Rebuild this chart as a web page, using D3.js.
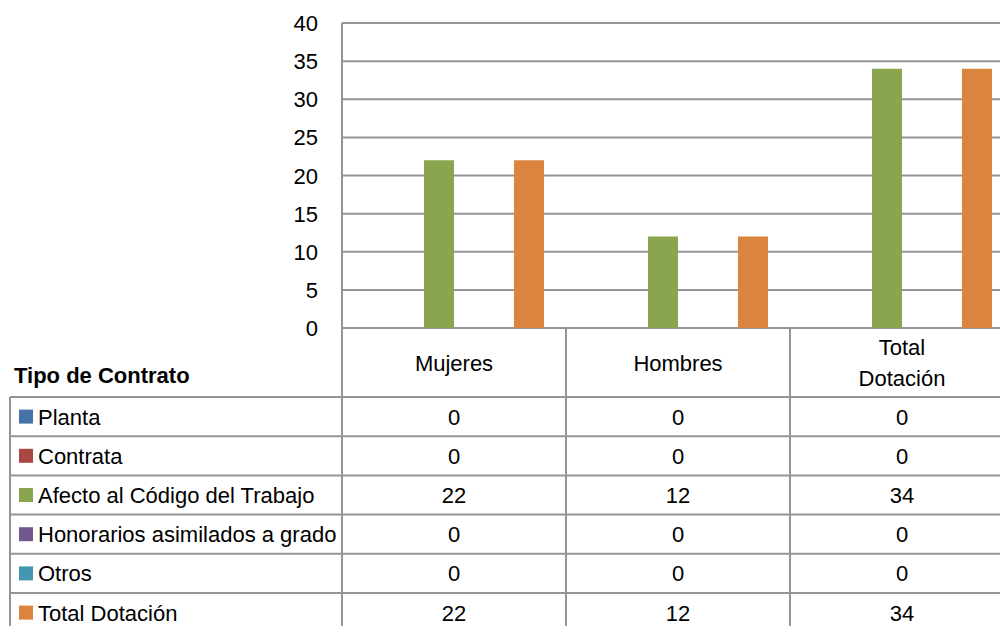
<!DOCTYPE html>
<html><head><meta charset="utf-8">
<script src="https://cdn.jsdelivr.net/npm/d3@7"></script>
<style>body{margin:0;background:#fff}svg{display:block}text{font-family:"Liberation Sans",Arial,sans-serif}</style>
</head><body>
<svg id="c" width="1000" height="626"></svg>
<script>
const categories = ["Mujeres", "Hombres", "Total Dotación"];
const categoryLines = [["Mujeres"], ["Hombres"], ["Total", "Dotación"]];
const seriesNames = ["Planta", "Contrata", "Afecto al Código del Trabajo", "Honorarios asimilados a grado", "Otros", "Total Dotación"];
const seriesColors = ["#4572A7", "#AA4643", "#89A54E", "#71588F", "#4198AF", "#DB843D"];
const planta = [0, 0, 0];
const contrata = [0, 0, 0];
const afecto = [22, 12, 34];
const honorarios = [0, 0, 0];
const otros = [0, 0, 0];
const totalDotacion = [22, 12, 34];
const yTicks = [0, 5, 10, 15, 20, 25, 30, 35, 40];
const tableTitle = "Tipo de Contrato";

const values = [planta, contrata, afecto, honorarios, otros, totalDotacion];

const svg = d3.select("#c");
const L = 342, R = 1014, T = 23, B = 328;
const grid = "#949494";

const x0 = d3.scaleBand().domain(categories).range([L, R]);
const x1 = d3.scaleBand().domain(seriesNames).range([0, x0.bandwidth()]).paddingInner(0).paddingOuter(0.733);
const y = d3.scaleLinear().domain([0, 40]).range([B, T]);

// gridlines
svg.append("g").selectAll("line").data(yTicks).join("line")
  .attr("x1", L).attr("x2", R).attr("y1", d => y(d)).attr("y2", d => y(d))
  .attr("stroke", grid).attr("stroke-width", 2);

// tick labels
svg.append("g").selectAll("text").data(yTicks).join("text")
  .attr("x", 318).attr("y", d => y(d) + 8).attr("text-anchor", "end")
  .attr("font-size", 22).attr("fill", "#000").text(d => d);

// bars
const g = svg.append("g");
seriesNames.forEach((s, si) => {
  g.selectAll(null).data(categories).join("rect")
    .attr("x", c => x0(c) + x1(s))
    .attr("width", x1.bandwidth())
    .attr("y", (c, ci) => y(values[si][ci]))
    .attr("height", (c, ci) => y(0) - y(values[si][ci]))
    .attr("fill", seriesColors[si]);
});

// table
const headerBottom = 397, rowH = 39.2;
const tableBottom = headerBottom + rowH * seriesNames.length;
const tl = svg.append("g").attr("stroke", grid).attr("stroke-width", 2);
// y axis line + category separators
x0.domain().forEach(c => {
  tl.append("line").attr("x1", x0(c)).attr("x2", x0(c))
    .attr("y1", c === categories[0] ? T : B).attr("y2", tableBottom);
});
tl.append("line").attr("x1", R).attr("x2", R).attr("y1", B).attr("y2", tableBottom);
// left border
tl.append("line").attr("x1", 10).attr("x2", 10).attr("y1", headerBottom).attr("y2", tableBottom);
// row lines
for (let i = 0; i <= seriesNames.length; i++) {
  const yy = headerBottom + i * rowH;
  tl.append("line").attr("x1", 10).attr("x2", R).attr("y1", yy).attr("y2", yy);
}

// category header labels
categories.forEach((c, ci) => {
  const lines = categoryLines[ci];
  const cx = x0(c) + x0.bandwidth() / 2;
  const cy = (B + headerBottom) / 2;
  lines.forEach((ln, li) => {
    svg.append("text").attr("x", cx)
      .attr("y", cy + 8 + (li - (lines.length - 1) / 2) * 31)
      .attr("text-anchor", "middle").attr("font-size", 22).text(ln);
  });
});

svg.append("text").attr("x", 14).attr("y", 383).attr("font-size", 22)
  .attr("font-weight", "bold").text(tableTitle);

// rows
seriesNames.forEach((s, si) => {
  const cy = headerBottom + si * rowH + rowH / 2;
  svg.append("rect").attr("x", 19).attr("y", cy - 7).attr("width", 14).attr("height", 14)
    .attr("fill", seriesColors[si]);
  svg.append("text").attr("x", 38).attr("y", cy + 8).attr("font-size", 22).text(s);
  categories.forEach((c, ci) => {
    svg.append("text").attr("x", x0(c) + x0.bandwidth() / 2).attr("y", cy + 8)
      .attr("text-anchor", "middle").attr("font-size", 22).text(values[si][ci]);
  });
});
</script>
</body></html>
